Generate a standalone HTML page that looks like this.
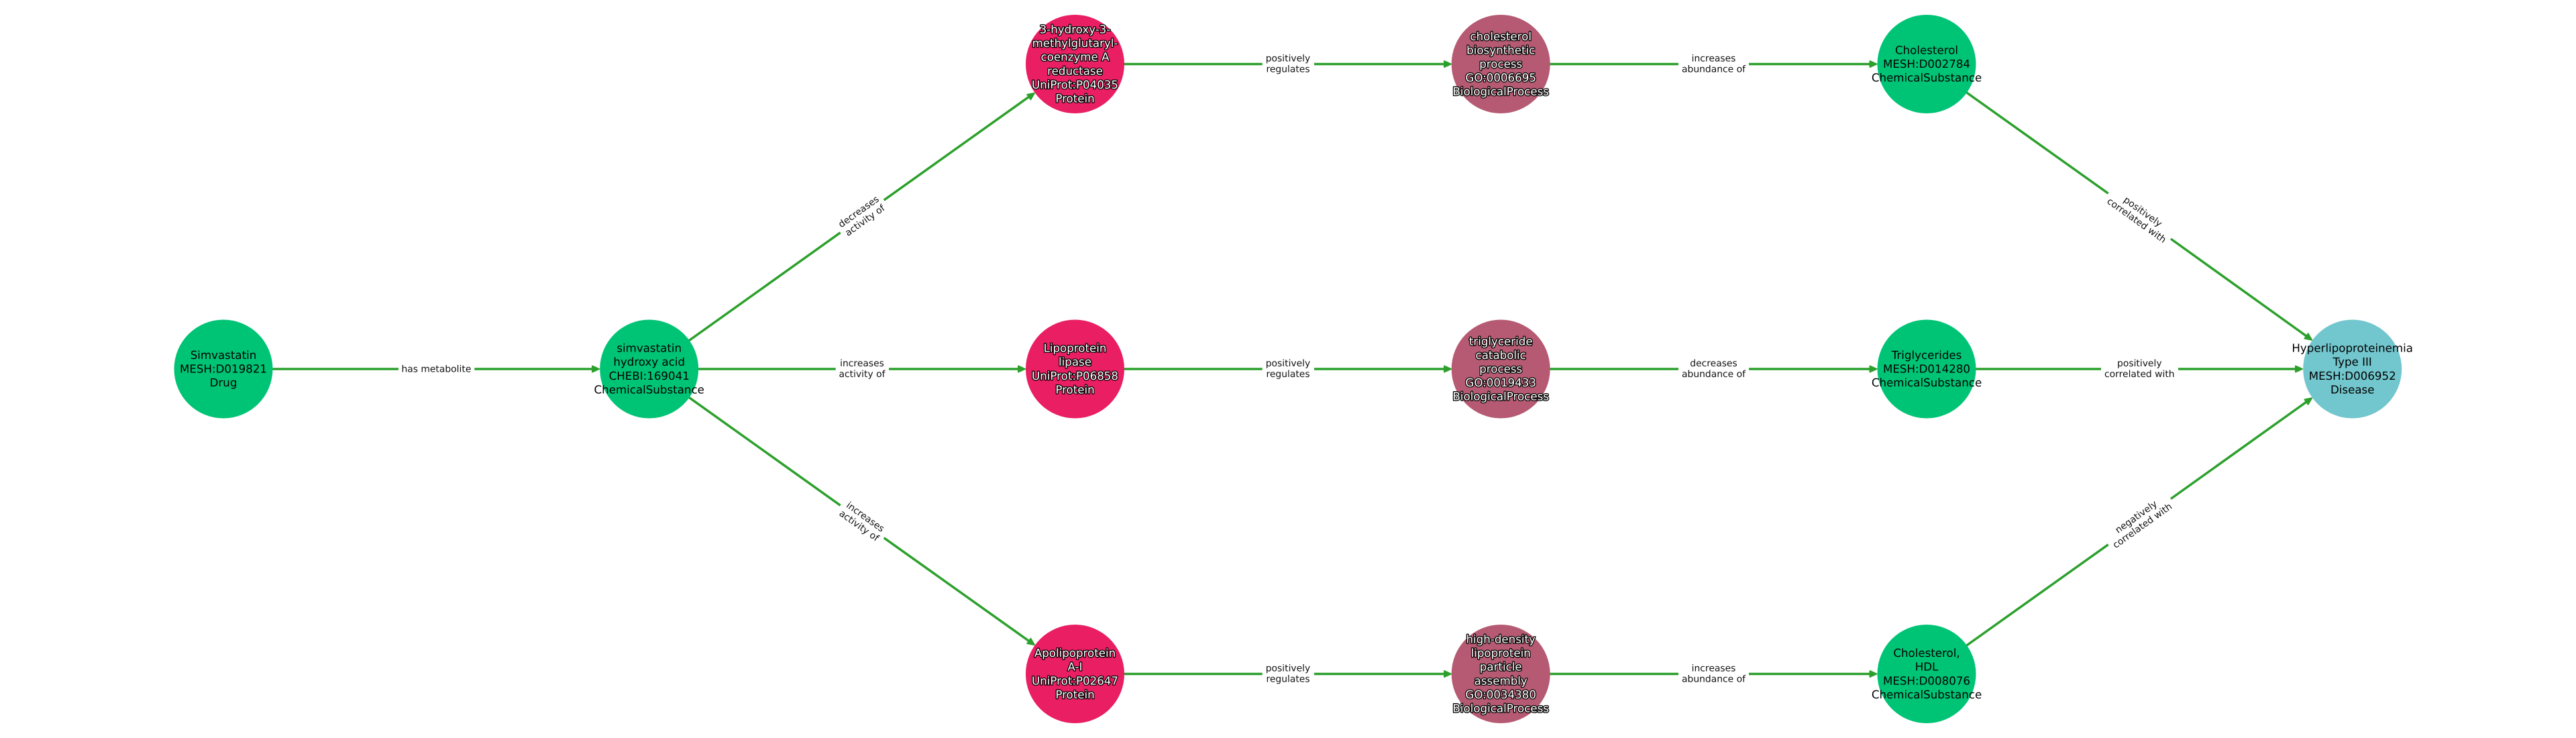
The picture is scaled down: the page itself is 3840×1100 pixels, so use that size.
<!DOCTYPE html>
<html lang="en">
<head>
<meta charset="utf-8">
<title>Simvastatin to Hyperlipoproteinemia Type III pathway</title>
<style>
html,body{margin:0;padding:0;background:#fff;width:3840px;height:1100px;overflow:hidden}
svg{display:block}
text{font-family:"DejaVu Sans","Liberation Sans",sans-serif;text-anchor:middle;text-rendering:geometricPrecision}
.n{font-size:16.67px;fill:#000}
.w{font-size:16.67px;fill:#fff;stroke:#000;stroke-width:2.6px;paint-order:stroke;stroke-linejoin:round}
.e{font-size:13.89px;fill:#111}
.l{stroke:#2ca02c;stroke-width:3.5px;fill:none}
.a{fill:#2ca02c;stroke:#2ca02c;stroke-width:2px;stroke-linejoin:round}
</style>
</head>
<body>
<svg xmlns="http://www.w3.org/2000/svg" width="3840" height="1100" viewBox="0 0 3840 1100">
<rect width="3840" height="1100" fill="#fff"/>

<!-- edges -->
<g class="l">
<path d="M333 550H594M707.3 550H885"/>
<path d="M967.7 550H1245.7M1325 550H1520"/>
<path d="M967.7 550L1252.7 346.7M1317.7 298.3L1536 142.7"/>
<path d="M967.7 550L1252.7 753.3M1317.7 801.7L1536 957"/>
<path d="M1602.5 95.5H1881.7M1959 95.5H2155"/>
<path d="M1602.5 550H1881.7M1959 550H2155"/>
<path d="M1602.5 1004.5H1881.7M1959 1004.5H2155"/>
<path d="M2237.2 95.5H2502M2607 95.5H2790"/>
<path d="M2237.2 550H2502M2607 550H2790"/>
<path d="M2237.2 1004.5H2502M2607 1004.5H2790"/>
<path d="M2872 95.5L3142.7 288.3M3236 356L3440 502.3"/>
<path d="M2872 550H3132M3247 550H3425"/>
<path d="M2872 1004.5L3142.7 811.7M3236 743.5L3440 597.7"/>
</g>

<!-- arrowheads -->
<g class="a">
<polygon transform="translate(893 550)" points="0,0 -10,-4.5 -10,4.5"/>
<polygon transform="translate(1528 550)" points="0,0 -10,-4.5 -10,4.5"/>
<polygon transform="translate(1542 138.8) rotate(-35.6)" points="0,0 -10,-4.5 -10,4.5"/>
<polygon transform="translate(1542 961.2) rotate(35.6)" points="0,0 -10,-4.5 -10,4.5"/>
<polygon transform="translate(2163 95.5)" points="0,0 -10,-4.5 -10,4.5"/>
<polygon transform="translate(2163 550)" points="0,0 -10,-4.5 -10,4.5"/>
<polygon transform="translate(2163 1004.5)" points="0,0 -10,-4.5 -10,4.5"/>
<polygon transform="translate(2797.5 95.5)" points="0,0 -10,-4.5 -10,4.5"/>
<polygon transform="translate(2797.5 550)" points="0,0 -10,-4.5 -10,4.5"/>
<polygon transform="translate(2797.5 1004.5)" points="0,0 -10,-4.5 -10,4.5"/>
<polygon transform="translate(3446.2 506.7) rotate(35.6)" points="0,0 -10,-4.5 -10,4.5"/>
<polygon transform="translate(3432 550)" points="0,0 -10,-4.5 -10,4.5"/>
<polygon transform="translate(3446.2 593.3) rotate(-35.6)" points="0,0 -10,-4.5 -10,4.5"/>
</g>

<!-- nodes -->
<circle cx="333" cy="550" r="73.5" fill="#00c475"/>
<circle cx="967.7" cy="550" r="73.5" fill="#00c475"/>
<circle cx="1602.5" cy="95.5" r="73.5" fill="#e91e63"/>
<circle cx="1602.5" cy="550" r="73.5" fill="#e91e63"/>
<circle cx="1602.5" cy="1004.5" r="73.5" fill="#e91e63"/>
<circle cx="2237.2" cy="95.5" r="73.5" fill="#b55a72"/>
<circle cx="2237.2" cy="550" r="73.5" fill="#b55a72"/>
<circle cx="2237.2" cy="1004.5" r="73.5" fill="#b55a72"/>
<circle cx="2872" cy="95.5" r="73.5" fill="#00c475"/>
<circle cx="2872" cy="550" r="73.5" fill="#00c475"/>
<circle cx="2872" cy="1004.5" r="73.5" fill="#00c475"/>
<circle cx="3506.7" cy="550" r="73.5" fill="#72c6cd"/>

<!-- edge labels -->
<g class="e">
<text x="650.4" y="554.5">has metabolite</text>
<g transform="translate(1285 550)"><text y="-4">increases</text><text y="12">activity of</text></g>
<g transform="translate(1285 322.5) rotate(-35.6)"><text y="-4">decreases</text><text y="12">activity of</text></g>
<g transform="translate(1285 777.5) rotate(35.6)"><text y="-4">increases</text><text y="12">activity of</text></g>
<g transform="translate(1920 95.5)"><text y="-4">positively</text><text y="12">regulates</text></g>
<g transform="translate(1920 550)"><text y="-4">positively</text><text y="12">regulates</text></g>
<g transform="translate(1920 1004.5)"><text y="-4">positively</text><text y="12">regulates</text></g>
<g transform="translate(2554.5 95.5)"><text y="-4">increases</text><text y="12">abundance of</text></g>
<g transform="translate(2554.5 550)"><text y="-4">decreases</text><text y="12">abundance of</text></g>
<g transform="translate(2554.5 1004.5)"><text y="-4">increases</text><text y="12">abundance of</text></g>
<g transform="translate(3189.3 322.5) rotate(35.6)"><text y="-4">positively</text><text y="12">correlated with</text></g>
<g transform="translate(3189.3 550)"><text y="-4">positively</text><text y="12">correlated with</text></g>
<g transform="translate(3189.3 777.5) rotate(-35.6)"><text y="-4">negatively</text><text y="12">correlated with</text></g>
</g>

<!-- node labels -->
<g class="n" transform="translate(333 555.5)"><text y="-20.6">Simvastatin</text><text y="0">MESH:D019821</text><text y="20.6">Drug</text></g>
<g class="n" transform="translate(967.7 555.5)"><text y="-30.9">simvastatin</text><text y="-10.3">hydroxy acid</text><text y="10.3">CHEBI:169041</text><text y="30.9">ChemicalSubstance</text></g>
<g class="w" transform="translate(1602.5 101)"><text y="-51.5">3-hydroxy-3-</text><text y="-30.9">methylglutaryl-</text><text y="-10.3">coenzyme A</text><text y="10.3">reductase</text><text y="30.9">UniProt:P04035</text><text y="51.5">Protein</text></g>
<g class="w" transform="translate(1602.5 555.5)"><text y="-30.9">Lipoprotein</text><text y="-10.3">lipase</text><text y="10.3">UniProt:P06858</text><text y="30.9">Protein</text></g>
<g class="w" transform="translate(1602.5 1010)"><text y="-30.9">Apolipoprotein</text><text y="-10.3">A-I</text><text y="10.3">UniProt:P02647</text><text y="30.9">Protein</text></g>
<g class="w" transform="translate(2237.2 101)"><text y="-41.2">cholesterol</text><text y="-20.6">biosynthetic</text><text y="0">process</text><text y="20.6">GO:0006695</text><text y="41.2">BiologicalProcess</text></g>
<g class="w" transform="translate(2237.2 555.5)"><text y="-41.2">triglyceride</text><text y="-20.6">catabolic</text><text y="0">process</text><text y="20.6">GO:0019433</text><text y="41.2">BiologicalProcess</text></g>
<g class="w" transform="translate(2237.2 1010)"><text y="-51.5">high-density</text><text y="-30.9">lipoprotein</text><text y="-10.3">particle</text><text y="10.3">assembly</text><text y="30.9">GO:0034380</text><text y="51.5">BiologicalProcess</text></g>
<g class="n" transform="translate(2872 101)"><text y="-20.6">Cholesterol</text><text y="0">MESH:D002784</text><text y="20.6">ChemicalSubstance</text></g>
<g class="n" transform="translate(2872 555.5)"><text y="-20.6">Triglycerides</text><text y="0">MESH:D014280</text><text y="20.6">ChemicalSubstance</text></g>
<g class="n" transform="translate(2872 1010)"><text y="-30.9">Cholesterol,</text><text y="-10.3">HDL</text><text y="10.3">MESH:D008076</text><text y="30.9">ChemicalSubstance</text></g>
<g class="n" transform="translate(3506.7 555.5)"><text y="-30.9">Hyperlipoproteinemia</text><text y="-10.3">Type III</text><text y="10.3">MESH:D006952</text><text y="30.9">Disease</text></g>
</svg>
</body>
</html>
